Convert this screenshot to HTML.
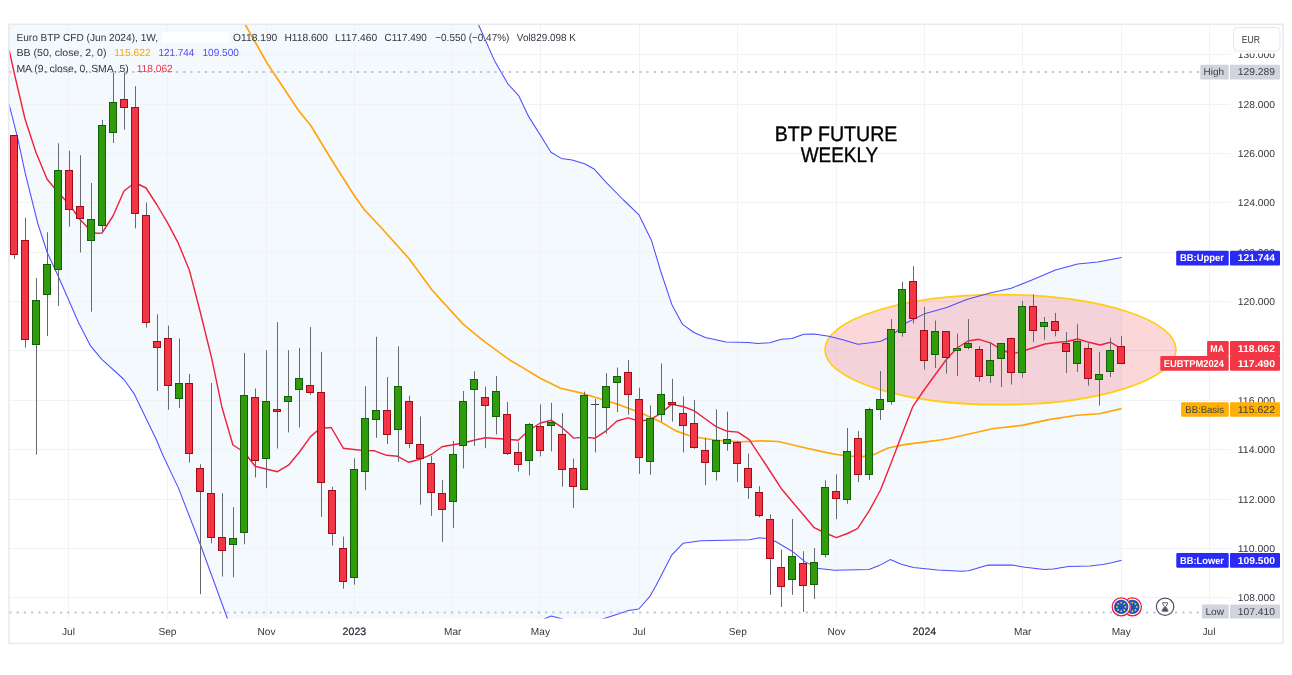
<!DOCTYPE html>
<html lang="en"><head><meta charset="utf-8"><title>Euro BTP CFD weekly chart</title>
<style>html,body{margin:0;padding:0;background:#fff}svg{display:block}</style></head>
<body>
<svg width="1292" height="675" viewBox="0 0 1292 675" font-family="Liberation Sans, Arial, sans-serif" text-rendering="geometricPrecision">
<defs><clipPath id="pane"><rect x="9" y="24.5" width="1221" height="594.0"/></clipPath></defs>
<rect width="1292" height="675" fill="#ffffff"/>
<g clip-path="url(#pane)">
<polygon fill="#f4f9fe" points="9.0,-900.0 400.0,-180.0 440.0,-75.0 478.2,24.0 494.4,60.4 507.8,83.8 518.6,95.6 528.6,116.4 551.0,152.2 561.3,158.4 572.1,160.0 584.6,163.7 594.5,169.3 605.4,181.7 623.5,200.0 639.0,214.9 651.5,240.4 660.8,271.5 671.7,304.2 682.6,324.4 693.5,332.2 705.3,337.5 726.1,342.1 747.9,342.5 757.8,343.4 769.6,342.8 781.5,339.3 791.9,338.4 803.7,334.2 814.1,333.9 828.9,336.3 843.7,340.1 857.9,344.3 870.4,342.8 880.7,341.3 891.1,336.3 906.0,323.0 923.7,314.1 946.6,307.4 966.8,299.4 989.0,293.3 1011.1,288.3 1031.3,280.2 1055.5,270.1 1077.7,264.1 1097.8,262.1 1121.6,257.6 1121.6,560.2 1111.7,562.7 1103.0,564.4 1090.0,565.9 1068.4,566.6 1053.2,569.0 1044.5,569.4 1025.0,567.2 1012.0,565.1 988.2,565.1 968.5,570.8 961.8,571.2 937.6,570.0 913.4,567.6 901.3,564.2 890.2,559.6 879.1,565.6 869.0,569.6 834.8,570.2 818.6,568.6 804.7,561.6 792.2,551.2 775.5,541.5 767.0,538.6 759.4,537.8 749.5,539.7 737.4,540.1 701.1,540.7 683.0,543.3 671.9,554.8 655.8,586.0 649.5,596.9 638.8,609.0 628.6,610.4 603.6,618.8 580.0,626.0 561.8,618.8 551.3,616.0 544.4,618.8 500.0,650.0 420.0,700.0 300.0,760.0 227.4,618.5 211.5,575.0 200.8,545.8 178.6,488.4 162.3,454.0 156.5,440.0 134.0,393.6 124.0,379.5 101.8,359.3 90.7,346.2 78.5,322.5 58.5,276.7 47.2,252.5 37.8,223.5 25.2,173.1 17.6,137.9 9.0,103.9"/>
</g>
<line x1="68.5" y1="24.5" x2="68.5" y2="618.5" stroke="#f1f2f5" stroke-width="1"/>
<line x1="167.5" y1="24.5" x2="167.5" y2="618.5" stroke="#f1f2f5" stroke-width="1"/>
<line x1="266.5" y1="24.5" x2="266.5" y2="618.5" stroke="#f1f2f5" stroke-width="1"/>
<line x1="354.5" y1="24.5" x2="354.5" y2="618.5" stroke="#f1f2f5" stroke-width="1"/>
<line x1="452.5" y1="24.5" x2="452.5" y2="618.5" stroke="#f1f2f5" stroke-width="1"/>
<line x1="540.5" y1="24.5" x2="540.5" y2="618.5" stroke="#f1f2f5" stroke-width="1"/>
<line x1="639.5" y1="24.5" x2="639.5" y2="618.5" stroke="#f1f2f5" stroke-width="1"/>
<line x1="737.5" y1="24.5" x2="737.5" y2="618.5" stroke="#f1f2f5" stroke-width="1"/>
<line x1="836.5" y1="24.5" x2="836.5" y2="618.5" stroke="#f1f2f5" stroke-width="1"/>
<line x1="924.5" y1="24.5" x2="924.5" y2="618.5" stroke="#f1f2f5" stroke-width="1"/>
<line x1="1022.5" y1="24.5" x2="1022.5" y2="618.5" stroke="#f1f2f5" stroke-width="1"/>
<line x1="1121.5" y1="24.5" x2="1121.5" y2="618.5" stroke="#f1f2f5" stroke-width="1"/>
<line x1="1209.5" y1="24.5" x2="1209.5" y2="618.5" stroke="#f1f2f5" stroke-width="1"/>
<line x1="9" y1="597.5" x2="1230" y2="597.5" stroke="#f1f2f5" stroke-width="1"/>
<line x1="9" y1="548.5" x2="1230" y2="548.5" stroke="#f1f2f5" stroke-width="1"/>
<line x1="9" y1="499.5" x2="1230" y2="499.5" stroke="#f1f2f5" stroke-width="1"/>
<line x1="9" y1="449.5" x2="1230" y2="449.5" stroke="#f1f2f5" stroke-width="1"/>
<line x1="9" y1="400.5" x2="1230" y2="400.5" stroke="#f1f2f5" stroke-width="1"/>
<line x1="9" y1="350.5" x2="1230" y2="350.5" stroke="#f1f2f5" stroke-width="1"/>
<line x1="9" y1="301.5" x2="1230" y2="301.5" stroke="#f1f2f5" stroke-width="1"/>
<line x1="9" y1="252.5" x2="1230" y2="252.5" stroke="#f1f2f5" stroke-width="1"/>
<line x1="9" y1="202.5" x2="1230" y2="202.5" stroke="#f1f2f5" stroke-width="1"/>
<line x1="9" y1="153.5" x2="1230" y2="153.5" stroke="#f1f2f5" stroke-width="1"/>
<line x1="9" y1="104.5" x2="1230" y2="104.5" stroke="#f1f2f5" stroke-width="1"/>
<line x1="9" y1="54.5" x2="1230" y2="54.5" stroke="#f1f2f5" stroke-width="1"/>
<g clip-path="url(#pane)">
<ellipse cx="1000.5" cy="349.7" rx="175.5" ry="55" fill="#f23645" fill-opacity="0.2" stroke="#ffce12" stroke-width="1.7"/>
<polyline fill="none" stroke="#4d4dff" stroke-width="1.05" stroke-linejoin="round" points="9.0,-900.0 400.0,-180.0 440.0,-75.0 478.2,24.0 494.4,60.4 507.8,83.8 518.6,95.6 528.6,116.4 551.0,152.2 561.3,158.4 572.1,160.0 584.6,163.7 594.5,169.3 605.4,181.7 623.5,200.0 639.0,214.9 651.5,240.4 660.8,271.5 671.7,304.2 682.6,324.4 693.5,332.2 705.3,337.5 726.1,342.1 747.9,342.5 757.8,343.4 769.6,342.8 781.5,339.3 791.9,338.4 803.7,334.2 814.1,333.9 828.9,336.3 843.7,340.1 857.9,344.3 870.4,342.8 880.7,341.3 891.1,336.3 906.0,323.0 923.7,314.1 946.6,307.4 966.8,299.4 989.0,293.3 1011.1,288.3 1031.3,280.2 1055.5,270.1 1077.7,264.1 1097.8,262.1 1121.6,257.6"/>
<polyline fill="none" stroke="#4d4dff" stroke-width="1.05" stroke-linejoin="round" points="9.0,103.9 17.6,137.9 25.2,173.1 37.8,223.5 47.2,252.5 58.5,276.7 78.5,322.5 90.7,346.2 101.8,359.3 124.0,379.5 134.0,393.6 156.5,440.0 162.3,454.0 178.6,488.4 200.8,545.8 211.5,575.0 227.4,618.5 300.0,760.0 420.0,700.0 500.0,650.0 544.4,618.8 551.3,616.0 561.8,618.8 580.0,626.0 603.6,618.8 628.6,610.4 638.8,609.0 649.5,596.9 655.8,586.0 671.9,554.8 683.0,543.3 701.1,540.7 737.4,540.1 749.5,539.7 759.4,537.8 767.0,538.6 775.5,541.5 792.2,551.2 804.7,561.6 818.6,568.6 834.8,570.2 869.0,569.6 879.1,565.6 890.2,559.6 901.3,564.2 913.4,567.6 937.6,570.0 961.8,571.2 968.5,570.8 988.2,565.1 1012.0,565.1 1025.0,567.2 1044.5,569.4 1053.2,569.0 1068.4,566.6 1090.0,565.9 1103.0,564.4 1111.7,562.7 1121.6,560.2"/>
<polyline fill="none" stroke="#ffa50a" stroke-width="1.65" stroke-linejoin="round" points="235.0,5.0 244.9,24.0 267.3,63.5 298.4,110.2 310.9,125.8 332.6,161.5 354.4,195.7 364.4,209.7 382.4,229.0 408.9,258.5 432.2,290.2 463.3,324.4 485.1,342.1 510.0,360.2 520.2,366.1 540.3,378.2 560.5,388.3 580.6,392.9 600.8,399.0 621.0,405.4 641.1,412.9 661.3,422.2 675.4,430.6 689.5,435.7 705.6,438.7 721.8,440.7 741.9,441.7 760.7,440.9 778.5,441.5 799.3,446.5 823.0,451.9 843.7,455.7 861.5,456.9 873.3,454.8 888.1,448.0 905.9,444.4 923.7,442.1 940.0,440.0 949.2,438.5 993.5,428.5 1021.8,425.4 1048.9,419.6 1077.0,415.3 1099.3,413.8 1121.6,408.6"/>
<polyline fill="none" stroke="#f0203c" stroke-width="1.4" stroke-linejoin="round" points="9.0,49.5 14.0,72.0 25.0,119.0 36.0,152.5 47.0,179.0 58.0,192.5 69.0,204.0 80.0,219.5 91.0,231.0 95.8,233.3 102.0,233.0 113.0,216.0 124.0,191.0 135.0,182.5 146.0,188.0 157.0,205.0 167.3,222.3 178.4,243.4 189.5,270.6 200.5,313.0 211.7,358.3 221.8,406.7 232.9,445.0 244.0,452.0 255.2,466.2 266.0,469.0 277.4,471.7 288.5,465.2 299.5,452.0 310.5,436.6 320.0,428.5 331.2,427.5 343.3,448.2 354.0,449.5 365.0,450.6 374.5,450.8 386.6,455.3 397.7,456.3 408.8,462.3 419.9,459.3 431.0,454.7 442.0,446.8 453.1,444.8 464.2,442.8 475.0,440.0 485.4,437.7 496.5,438.5 507.6,439.2 518.1,440.2 529.4,430.0 540.3,423.0 551.4,420.3 562.3,427.7 573.6,438.1 584.1,437.1 594.8,438.3 606.5,430.6 617.1,421.0 628.0,417.9 639.1,421.2 650.2,419.6 661.3,413.1 671.4,404.4 683.1,406.5 694.4,410.9 704.8,418.5 716.1,426.6 727.4,431.3 737.9,432.1 749.2,439.7 760.0,455.8 770.6,472.0 781.8,489.3 792.5,502.0 803.5,515.0 814.2,527.7 825.3,533.0 836.4,537.6 847.4,533.5 857.5,528.7 869.0,511.2 880.5,490.0 891.5,462.0 902.5,433.0 912.9,406.3 923.4,391.0 935.0,375.0 946.0,360.0 957.0,348.0 968.0,341.0 978.9,339.3 991.0,343.1 1001.0,349.5 1012.0,354.0 1023.0,351.0 1034.0,347.5 1045.0,344.0 1056.0,342.5 1067.0,341.5 1077.7,339.0 1089.0,342.3 1100.0,345.0 1110.4,342.2 1121.6,349.0"/>
<line x1="14.5" y1="135.0" x2="14.5" y2="259.0" stroke="#666970" stroke-width="1"/>
<rect x="10.5" y="135.5" width="7" height="119" fill="#f23645" stroke="#a40b19" stroke-width="1"/>
<line x1="25.5" y1="217.8" x2="25.5" y2="347.6" stroke="#666970" stroke-width="1"/>
<rect x="21.5" y="240.5" width="7" height="99" fill="#f23645" stroke="#a40b19" stroke-width="1"/>
<line x1="36.5" y1="278.0" x2="36.5" y2="454.7" stroke="#666970" stroke-width="1"/>
<rect x="32.5" y="300.5" width="7" height="44" fill="#309c0c" stroke="#115f08" stroke-width="1"/>
<line x1="47.5" y1="232.3" x2="47.5" y2="336.1" stroke="#666970" stroke-width="1"/>
<rect x="43.5" y="264.5" width="7" height="30" fill="#309c0c" stroke="#115f08" stroke-width="1"/>
<line x1="58.5" y1="143.3" x2="58.5" y2="306.0" stroke="#666970" stroke-width="1"/>
<rect x="54.5" y="170.5" width="7" height="99" fill="#309c0c" stroke="#115f08" stroke-width="1"/>
<line x1="69.5" y1="150.7" x2="69.5" y2="226.7" stroke="#666970" stroke-width="1"/>
<rect x="65.5" y="170.5" width="7" height="39" fill="#f23645" stroke="#a40b19" stroke-width="1"/>
<line x1="80.5" y1="155.2" x2="80.5" y2="252.5" stroke="#666970" stroke-width="1"/>
<rect x="76.5" y="206.5" width="7" height="12" fill="#f23645" stroke="#a40b19" stroke-width="1"/>
<line x1="91.5" y1="183.0" x2="91.5" y2="311.6" stroke="#666970" stroke-width="1"/>
<rect x="87.5" y="219.5" width="7" height="21" fill="#309c0c" stroke="#115f08" stroke-width="1"/>
<line x1="102.5" y1="120.0" x2="102.5" y2="232.7" stroke="#666970" stroke-width="1"/>
<rect x="98.5" y="125.5" width="7" height="100" fill="#309c0c" stroke="#115f08" stroke-width="1"/>
<line x1="113.5" y1="72.5" x2="113.5" y2="143.0" stroke="#666970" stroke-width="1"/>
<rect x="109.5" y="102.5" width="7" height="30" fill="#309c0c" stroke="#115f08" stroke-width="1"/>
<line x1="124.5" y1="72.5" x2="124.5" y2="129.6" stroke="#666970" stroke-width="1"/>
<rect x="120.5" y="99.5" width="7" height="8" fill="#f23645" stroke="#a40b19" stroke-width="1"/>
<line x1="135.5" y1="86.2" x2="135.5" y2="228.3" stroke="#666970" stroke-width="1"/>
<rect x="131.5" y="107.5" width="7" height="106" fill="#f23645" stroke="#a40b19" stroke-width="1"/>
<line x1="146.5" y1="202.5" x2="146.5" y2="327.5" stroke="#666970" stroke-width="1"/>
<rect x="142.5" y="215.5" width="7" height="107" fill="#f23645" stroke="#a40b19" stroke-width="1"/>
<line x1="157.5" y1="314.4" x2="157.5" y2="391.0" stroke="#666970" stroke-width="1"/>
<rect x="153.5" y="341.5" width="7" height="6" fill="#f23645" stroke="#a40b19" stroke-width="1"/>
<line x1="168.5" y1="325.6" x2="168.5" y2="409.7" stroke="#666970" stroke-width="1"/>
<rect x="164.5" y="338.5" width="7" height="47" fill="#f23645" stroke="#a40b19" stroke-width="1"/>
<line x1="179.5" y1="338.5" x2="179.5" y2="408.1" stroke="#666970" stroke-width="1"/>
<rect x="175.5" y="383.5" width="7" height="15" fill="#309c0c" stroke="#115f08" stroke-width="1"/>
<line x1="189.5" y1="374.0" x2="189.5" y2="462.6" stroke="#666970" stroke-width="1"/>
<rect x="185.5" y="383.5" width="7" height="70" fill="#f23645" stroke="#a40b19" stroke-width="1"/>
<line x1="200.5" y1="464.2" x2="200.5" y2="594.2" stroke="#666970" stroke-width="1"/>
<rect x="196.5" y="468.5" width="7" height="23" fill="#f23645" stroke="#a40b19" stroke-width="1"/>
<line x1="211.5" y1="382.9" x2="211.5" y2="543.4" stroke="#666970" stroke-width="1"/>
<rect x="207.5" y="493.5" width="7" height="44" fill="#f23645" stroke="#a40b19" stroke-width="1"/>
<line x1="222.5" y1="493.2" x2="222.5" y2="576.6" stroke="#666970" stroke-width="1"/>
<rect x="218.5" y="537.5" width="7" height="13" fill="#f23645" stroke="#a40b19" stroke-width="1"/>
<line x1="233.5" y1="507.1" x2="233.5" y2="577.2" stroke="#666970" stroke-width="1"/>
<rect x="229.5" y="538.5" width="7" height="6" fill="#309c0c" stroke="#115f08" stroke-width="1"/>
<line x1="244.5" y1="352.9" x2="244.5" y2="544.2" stroke="#666970" stroke-width="1"/>
<rect x="240.5" y="395.5" width="7" height="137" fill="#309c0c" stroke="#115f08" stroke-width="1"/>
<line x1="255.5" y1="388.5" x2="255.5" y2="477.5" stroke="#666970" stroke-width="1"/>
<rect x="251.5" y="397.5" width="7" height="63" fill="#f23645" stroke="#a40b19" stroke-width="1"/>
<line x1="266.5" y1="350.3" x2="266.5" y2="487.8" stroke="#666970" stroke-width="1"/>
<rect x="262.5" y="401.5" width="7" height="57" fill="#309c0c" stroke="#115f08" stroke-width="1"/>
<line x1="277.5" y1="322.1" x2="277.5" y2="448.5" stroke="#666970" stroke-width="1"/>
<rect x="273.5" y="409.5" width="7" height="2" fill="#f23645" stroke="#a40b19" stroke-width="1"/>
<line x1="288.5" y1="350.3" x2="288.5" y2="432.4" stroke="#666970" stroke-width="1"/>
<rect x="284.5" y="396.5" width="7" height="5" fill="#309c0c" stroke="#115f08" stroke-width="1"/>
<line x1="299.5" y1="347.9" x2="299.5" y2="427.5" stroke="#666970" stroke-width="1"/>
<rect x="295.5" y="378.5" width="7" height="11" fill="#309c0c" stroke="#115f08" stroke-width="1"/>
<line x1="310.5" y1="327.1" x2="310.5" y2="394.7" stroke="#666970" stroke-width="1"/>
<rect x="306.5" y="385.5" width="7" height="7" fill="#f23645" stroke="#a40b19" stroke-width="1"/>
<line x1="321.5" y1="351.9" x2="321.5" y2="516.8" stroke="#666970" stroke-width="1"/>
<rect x="317.5" y="392.5" width="7" height="90" fill="#f23645" stroke="#a40b19" stroke-width="1"/>
<line x1="332.5" y1="486.8" x2="332.5" y2="545.6" stroke="#666970" stroke-width="1"/>
<rect x="328.5" y="490.5" width="7" height="43" fill="#f23645" stroke="#a40b19" stroke-width="1"/>
<line x1="343.5" y1="536.6" x2="343.5" y2="588.7" stroke="#666970" stroke-width="1"/>
<rect x="339.5" y="548.5" width="7" height="33" fill="#f23645" stroke="#a40b19" stroke-width="1"/>
<line x1="354.5" y1="458.4" x2="354.5" y2="584.7" stroke="#666970" stroke-width="1"/>
<rect x="350.5" y="469.5" width="7" height="108" fill="#309c0c" stroke="#115f08" stroke-width="1"/>
<line x1="365.5" y1="386.0" x2="365.5" y2="490.2" stroke="#666970" stroke-width="1"/>
<rect x="361.5" y="418.5" width="7" height="53" fill="#309c0c" stroke="#115f08" stroke-width="1"/>
<line x1="376.5" y1="336.8" x2="376.5" y2="437.8" stroke="#666970" stroke-width="1"/>
<rect x="372.5" y="410.5" width="7" height="9" fill="#309c0c" stroke="#115f08" stroke-width="1"/>
<line x1="387.5" y1="377.1" x2="387.5" y2="444.1" stroke="#666970" stroke-width="1"/>
<rect x="383.5" y="410.5" width="7" height="24" fill="#f23645" stroke="#a40b19" stroke-width="1"/>
<line x1="398.5" y1="346.3" x2="398.5" y2="461.9" stroke="#666970" stroke-width="1"/>
<rect x="394.5" y="386.5" width="7" height="43" fill="#309c0c" stroke="#115f08" stroke-width="1"/>
<line x1="409.5" y1="395.7" x2="409.5" y2="448.2" stroke="#666970" stroke-width="1"/>
<rect x="405.5" y="401.5" width="7" height="42" fill="#f23645" stroke="#a40b19" stroke-width="1"/>
<line x1="420.5" y1="416.5" x2="420.5" y2="504.7" stroke="#666970" stroke-width="1"/>
<rect x="416.5" y="444.5" width="7" height="14" fill="#f23645" stroke="#a40b19" stroke-width="1"/>
<line x1="431.5" y1="455.9" x2="431.5" y2="515.8" stroke="#666970" stroke-width="1"/>
<rect x="427.5" y="463.5" width="7" height="29" fill="#f23645" stroke="#a40b19" stroke-width="1"/>
<line x1="442.5" y1="480.1" x2="442.5" y2="541.8" stroke="#666970" stroke-width="1"/>
<rect x="438.5" y="493.5" width="7" height="16" fill="#f23645" stroke="#a40b19" stroke-width="1"/>
<line x1="453.5" y1="440.9" x2="453.5" y2="527.9" stroke="#666970" stroke-width="1"/>
<rect x="449.5" y="454.5" width="7" height="47" fill="#309c0c" stroke="#115f08" stroke-width="1"/>
<line x1="463.5" y1="391.0" x2="463.5" y2="468.4" stroke="#666970" stroke-width="1"/>
<rect x="459.5" y="401.5" width="7" height="44" fill="#309c0c" stroke="#115f08" stroke-width="1"/>
<line x1="474.5" y1="371.3" x2="474.5" y2="445.8" stroke="#666970" stroke-width="1"/>
<rect x="470.5" y="379.5" width="7" height="10" fill="#309c0c" stroke="#115f08" stroke-width="1"/>
<line x1="485.5" y1="386.6" x2="485.5" y2="448.2" stroke="#666970" stroke-width="1"/>
<rect x="481.5" y="397.5" width="7" height="8" fill="#f23645" stroke="#a40b19" stroke-width="1"/>
<line x1="496.5" y1="376.1" x2="496.5" y2="434.5" stroke="#666970" stroke-width="1"/>
<rect x="492.5" y="391.5" width="7" height="25" fill="#309c0c" stroke="#115f08" stroke-width="1"/>
<line x1="507.5" y1="402.0" x2="507.5" y2="455.0" stroke="#666970" stroke-width="1"/>
<rect x="503.5" y="414.5" width="7" height="39" fill="#f23645" stroke="#a40b19" stroke-width="1"/>
<line x1="518.5" y1="442.4" x2="518.5" y2="471.6" stroke="#666970" stroke-width="1"/>
<rect x="514.5" y="452.5" width="7" height="12" fill="#f23645" stroke="#a40b19" stroke-width="1"/>
<line x1="529.5" y1="423.0" x2="529.5" y2="475.5" stroke="#666970" stroke-width="1"/>
<rect x="525.5" y="424.5" width="7" height="36" fill="#309c0c" stroke="#115f08" stroke-width="1"/>
<line x1="540.5" y1="404.4" x2="540.5" y2="456.4" stroke="#666970" stroke-width="1"/>
<rect x="536.5" y="426.5" width="7" height="24" fill="#f23645" stroke="#a40b19" stroke-width="1"/>
<line x1="551.5" y1="402.8" x2="551.5" y2="451.4" stroke="#666970" stroke-width="1"/>
<rect x="547.5" y="422.5" width="7" height="3" fill="#309c0c" stroke="#115f08" stroke-width="1"/>
<line x1="562.5" y1="413.1" x2="562.5" y2="486.7" stroke="#666970" stroke-width="1"/>
<rect x="558.5" y="434.5" width="7" height="35" fill="#f23645" stroke="#a40b19" stroke-width="1"/>
<line x1="573.5" y1="458.5" x2="573.5" y2="507.9" stroke="#666970" stroke-width="1"/>
<rect x="569.5" y="468.5" width="7" height="18" fill="#f23645" stroke="#a40b19" stroke-width="1"/>
<line x1="584.5" y1="391.7" x2="584.5" y2="489.7" stroke="#666970" stroke-width="1"/>
<rect x="580.5" y="395.5" width="7" height="94" fill="#309c0c" stroke="#115f08" stroke-width="1"/>
<line x1="595.5" y1="399.0" x2="595.5" y2="452.4" stroke="#666970" stroke-width="1"/>
<line x1="591" y1="404.5" x2="599" y2="404.5" stroke="#3c3f46" stroke-width="1"/>
<line x1="606.5" y1="373.2" x2="606.5" y2="433.7" stroke="#666970" stroke-width="1"/>
<rect x="602.5" y="386.5" width="7" height="21" fill="#309c0c" stroke="#115f08" stroke-width="1"/>
<line x1="617.5" y1="367.5" x2="617.5" y2="412.1" stroke="#666970" stroke-width="1"/>
<rect x="613.5" y="376.5" width="7" height="6" fill="#309c0c" stroke="#115f08" stroke-width="1"/>
<line x1="628.5" y1="360.1" x2="628.5" y2="414.5" stroke="#666970" stroke-width="1"/>
<rect x="624.5" y="372.5" width="7" height="22" fill="#f23645" stroke="#a40b19" stroke-width="1"/>
<line x1="639.5" y1="387.7" x2="639.5" y2="473.9" stroke="#666970" stroke-width="1"/>
<rect x="635.5" y="399.5" width="7" height="58" fill="#f23645" stroke="#a40b19" stroke-width="1"/>
<line x1="650.5" y1="405.4" x2="650.5" y2="474.8" stroke="#666970" stroke-width="1"/>
<rect x="646.5" y="418.5" width="7" height="43" fill="#309c0c" stroke="#115f08" stroke-width="1"/>
<line x1="661.5" y1="363.5" x2="661.5" y2="421.6" stroke="#666970" stroke-width="1"/>
<rect x="657.5" y="394.5" width="7" height="20" fill="#309c0c" stroke="#115f08" stroke-width="1"/>
<line x1="672.5" y1="378.8" x2="672.5" y2="421.6" stroke="#666970" stroke-width="1"/>
<rect x="668.5" y="402.5" width="7" height="2" fill="#f23645" stroke="#a40b19" stroke-width="1"/>
<line x1="683.5" y1="396.4" x2="683.5" y2="452.4" stroke="#666970" stroke-width="1"/>
<rect x="679.5" y="413.5" width="7" height="12" fill="#f23645" stroke="#a40b19" stroke-width="1"/>
<line x1="694.5" y1="400.0" x2="694.5" y2="448.8" stroke="#666970" stroke-width="1"/>
<rect x="690.5" y="423.5" width="7" height="24" fill="#f23645" stroke="#a40b19" stroke-width="1"/>
<line x1="705.5" y1="437.7" x2="705.5" y2="485.3" stroke="#666970" stroke-width="1"/>
<rect x="701.5" y="450.5" width="7" height="12" fill="#f23645" stroke="#a40b19" stroke-width="1"/>
<line x1="716.5" y1="409.3" x2="716.5" y2="480.6" stroke="#666970" stroke-width="1"/>
<rect x="712.5" y="440.5" width="7" height="31" fill="#309c0c" stroke="#115f08" stroke-width="1"/>
<line x1="727.5" y1="411.7" x2="727.5" y2="450.8" stroke="#666970" stroke-width="1"/>
<rect x="723.5" y="439.5" width="7" height="4" fill="#309c0c" stroke="#115f08" stroke-width="1"/>
<line x1="737.5" y1="441.0" x2="737.5" y2="482.0" stroke="#666970" stroke-width="1"/>
<rect x="733.5" y="442.5" width="7" height="21" fill="#f23645" stroke="#a40b19" stroke-width="1"/>
<line x1="748.5" y1="453.6" x2="748.5" y2="498.8" stroke="#666970" stroke-width="1"/>
<rect x="744.5" y="468.5" width="7" height="19" fill="#f23645" stroke="#a40b19" stroke-width="1"/>
<line x1="759.5" y1="486.3" x2="759.5" y2="517.3" stroke="#666970" stroke-width="1"/>
<rect x="755.5" y="492.5" width="7" height="23" fill="#f23645" stroke="#a40b19" stroke-width="1"/>
<line x1="770.5" y1="514.3" x2="770.5" y2="594.8" stroke="#666970" stroke-width="1"/>
<rect x="766.5" y="519.5" width="7" height="39" fill="#f23645" stroke="#a40b19" stroke-width="1"/>
<line x1="781.5" y1="549.6" x2="781.5" y2="606.9" stroke="#666970" stroke-width="1"/>
<rect x="777.5" y="567.5" width="7" height="19" fill="#f23645" stroke="#a40b19" stroke-width="1"/>
<line x1="792.5" y1="518.9" x2="792.5" y2="594.8" stroke="#666970" stroke-width="1"/>
<rect x="788.5" y="556.5" width="7" height="23" fill="#309c0c" stroke="#115f08" stroke-width="1"/>
<line x1="803.5" y1="551.2" x2="803.5" y2="612.0" stroke="#666970" stroke-width="1"/>
<rect x="799.5" y="563.5" width="7" height="22" fill="#f23645" stroke="#a40b19" stroke-width="1"/>
<line x1="814.5" y1="548.1" x2="814.5" y2="598.9" stroke="#666970" stroke-width="1"/>
<rect x="810.5" y="562.5" width="7" height="22" fill="#309c0c" stroke="#115f08" stroke-width="1"/>
<line x1="825.5" y1="480.3" x2="825.5" y2="557.5" stroke="#666970" stroke-width="1"/>
<rect x="821.5" y="487.5" width="7" height="67" fill="#309c0c" stroke="#115f08" stroke-width="1"/>
<line x1="836.5" y1="474.4" x2="836.5" y2="519.2" stroke="#666970" stroke-width="1"/>
<rect x="832.5" y="491.5" width="7" height="7" fill="#f23645" stroke="#a40b19" stroke-width="1"/>
<line x1="847.5" y1="427.9" x2="847.5" y2="503.7" stroke="#666970" stroke-width="1"/>
<rect x="843.5" y="451.5" width="7" height="48" fill="#309c0c" stroke="#115f08" stroke-width="1"/>
<line x1="858.5" y1="431.1" x2="858.5" y2="482.1" stroke="#666970" stroke-width="1"/>
<rect x="854.5" y="438.5" width="7" height="36" fill="#f23645" stroke="#a40b19" stroke-width="1"/>
<line x1="869.5" y1="407.7" x2="869.5" y2="479.9" stroke="#666970" stroke-width="1"/>
<rect x="865.5" y="409.5" width="7" height="65" fill="#309c0c" stroke="#115f08" stroke-width="1"/>
<line x1="880.5" y1="371.0" x2="880.5" y2="420.0" stroke="#666970" stroke-width="1"/>
<rect x="876.5" y="399.5" width="7" height="10" fill="#309c0c" stroke="#115f08" stroke-width="1"/>
<line x1="891.5" y1="319.1" x2="891.5" y2="404.7" stroke="#666970" stroke-width="1"/>
<rect x="887.5" y="329.5" width="7" height="72" fill="#309c0c" stroke="#115f08" stroke-width="1"/>
<line x1="902.5" y1="281.8" x2="902.5" y2="336.7" stroke="#666970" stroke-width="1"/>
<rect x="898.5" y="289.5" width="7" height="43" fill="#309c0c" stroke="#115f08" stroke-width="1"/>
<line x1="913.5" y1="266.1" x2="913.5" y2="323.5" stroke="#666970" stroke-width="1"/>
<rect x="909.5" y="281.5" width="7" height="37" fill="#f23645" stroke="#a40b19" stroke-width="1"/>
<line x1="924.5" y1="307.0" x2="924.5" y2="369.5" stroke="#666970" stroke-width="1"/>
<rect x="920.5" y="330.5" width="7" height="30" fill="#f23645" stroke="#a40b19" stroke-width="1"/>
<line x1="935.5" y1="320.5" x2="935.5" y2="367.9" stroke="#666970" stroke-width="1"/>
<rect x="931.5" y="331.5" width="7" height="23" fill="#309c0c" stroke="#115f08" stroke-width="1"/>
<line x1="946.5" y1="331.2" x2="946.5" y2="373.5" stroke="#666970" stroke-width="1"/>
<rect x="942.5" y="331.5" width="7" height="26" fill="#f23645" stroke="#a40b19" stroke-width="1"/>
<line x1="957.5" y1="333.6" x2="957.5" y2="376.0" stroke="#666970" stroke-width="1"/>
<rect x="953.5" y="348.5" width="7" height="2" fill="#309c0c" stroke="#115f08" stroke-width="1"/>
<line x1="968.5" y1="319.1" x2="968.5" y2="349.4" stroke="#666970" stroke-width="1"/>
<rect x="964.5" y="343.5" width="7" height="4" fill="#309c0c" stroke="#115f08" stroke-width="1"/>
<line x1="979.5" y1="346.1" x2="979.5" y2="381.6" stroke="#666970" stroke-width="1"/>
<rect x="975.5" y="349.5" width="7" height="27" fill="#f23645" stroke="#a40b19" stroke-width="1"/>
<line x1="990.5" y1="342.1" x2="990.5" y2="383.0" stroke="#666970" stroke-width="1"/>
<rect x="986.5" y="360.5" width="7" height="15" fill="#309c0c" stroke="#115f08" stroke-width="1"/>
<line x1="1001.5" y1="343.1" x2="1001.5" y2="387.1" stroke="#666970" stroke-width="1"/>
<rect x="997.5" y="343.5" width="7" height="15" fill="#309c0c" stroke="#115f08" stroke-width="1"/>
<line x1="1011.5" y1="337.7" x2="1011.5" y2="384.6" stroke="#666970" stroke-width="1"/>
<rect x="1007.5" y="338.5" width="7" height="34" fill="#f23645" stroke="#a40b19" stroke-width="1"/>
<line x1="1022.5" y1="300.8" x2="1022.5" y2="377.6" stroke="#666970" stroke-width="1"/>
<rect x="1018.5" y="306.5" width="7" height="66" fill="#309c0c" stroke="#115f08" stroke-width="1"/>
<line x1="1033.5" y1="294.3" x2="1033.5" y2="342.1" stroke="#666970" stroke-width="1"/>
<rect x="1029.5" y="306.5" width="7" height="24" fill="#f23645" stroke="#a40b19" stroke-width="1"/>
<line x1="1044.5" y1="316.9" x2="1044.5" y2="339.7" stroke="#666970" stroke-width="1"/>
<rect x="1040.5" y="322.5" width="7" height="4" fill="#309c0c" stroke="#115f08" stroke-width="1"/>
<line x1="1055.5" y1="312.9" x2="1055.5" y2="336.3" stroke="#666970" stroke-width="1"/>
<rect x="1051.5" y="321.5" width="7" height="9" fill="#f23645" stroke="#a40b19" stroke-width="1"/>
<line x1="1066.5" y1="332.0" x2="1066.5" y2="372.9" stroke="#666970" stroke-width="1"/>
<rect x="1062.5" y="343.5" width="7" height="8" fill="#f23645" stroke="#a40b19" stroke-width="1"/>
<line x1="1077.5" y1="324.2" x2="1077.5" y2="371.9" stroke="#666970" stroke-width="1"/>
<rect x="1073.5" y="341.5" width="7" height="22" fill="#309c0c" stroke="#115f08" stroke-width="1"/>
<line x1="1088.5" y1="343.1" x2="1088.5" y2="385.6" stroke="#666970" stroke-width="1"/>
<rect x="1084.5" y="348.5" width="7" height="30" fill="#f23645" stroke="#a40b19" stroke-width="1"/>
<line x1="1099.5" y1="351.9" x2="1099.5" y2="405.6" stroke="#666970" stroke-width="1"/>
<rect x="1095.5" y="374.5" width="7" height="5" fill="#309c0c" stroke="#115f08" stroke-width="1"/>
<line x1="1110.5" y1="337.7" x2="1110.5" y2="377.0" stroke="#666970" stroke-width="1"/>
<rect x="1106.5" y="350.5" width="7" height="21" fill="#309c0c" stroke="#115f08" stroke-width="1"/>
<line x1="1121.5" y1="336.1" x2="1121.5" y2="364.2" stroke="#666970" stroke-width="1"/>
<rect x="1117.5" y="346.5" width="7" height="17" fill="#f23645" stroke="#a40b19" stroke-width="1"/>
</g>
<line x1="9.3" y1="72" x2="1199.5" y2="72" stroke="#c1c5d1" stroke-width="2" stroke-dasharray="2.2 5.04"/>
<line x1="9.3" y1="612.5" x2="1201" y2="612.5" stroke="#c1c5d1" stroke-width="2" stroke-dasharray="2.2 5.04"/>
<text transform="translate(16.40 40.90) scale(0.9838 1.0000)" font-size="10.3" fill="#33363e" font-weight="normal">Euro BTP CFD (Jun 2024), 1W,</text>
<rect x="162.2" y="32.5" width="66.8" height="10.2" fill="#ffffff"/>
<text transform="translate(233.10 40.90) scale(0.9940 1.0000)" font-size="10.3" fill="#33363e" font-weight="normal">O118.190</text>
<text transform="translate(284.40 40.90) scale(0.9930 1.0000)" font-size="10.3" fill="#33363e" font-weight="normal">H118.600</text>
<text transform="translate(335.10 40.90) scale(0.9956 1.0000)" font-size="10.3" fill="#33363e" font-weight="normal">L117.460</text>
<text transform="translate(384.60 40.90) scale(0.9634 1.0000)" font-size="10.3" fill="#33363e" font-weight="normal">C117.490</text>
<text transform="translate(435.30 40.90) scale(0.9646 1.0000)" font-size="10.3" fill="#33363e" font-weight="normal">−0.550 (−0.47%)</text>
<text transform="translate(516.80 40.90) scale(0.9647 1.0000)" font-size="10.3" fill="#33363e" font-weight="normal">Vol829.098 K</text>
<text transform="translate(16.40 56.10) scale(1.0288 1.0000)" font-size="10.3" fill="#33363e" font-weight="normal">BB (50, close, 2, 0)</text>
<text transform="translate(114.30 56.10) scale(0.9981 1.0000)" font-size="10.3" fill="#ffa50a" font-weight="normal">115.622</text>
<text transform="translate(158.50 56.10) scale(0.9615 1.0000)" font-size="10.3" fill="#4a4aff" font-weight="normal">121.744</text>
<text transform="translate(202.50 56.10) scale(0.9776 1.0000)" font-size="10.3" fill="#4a4aff" font-weight="normal">109.500</text>
<text transform="translate(16.40 71.50) scale(1.0125 1.0000)" font-size="10.3" fill="#33363e" font-weight="normal">MA (9, close, 0, SMA, 5)</text>
<text transform="translate(136.70 71.50) scale(0.9899 1.0000)" font-size="10.3" fill="#f23645" font-weight="normal">118.062</text>
<g stroke="#000000" stroke-width="0.35">
<text transform="translate(774.80 140.60) scale(0.9325 1.0000)" font-size="21" fill="#000000" font-weight="normal">BTP FUTURE</text>
<text transform="translate(800.70 162.20) scale(0.9015 1.0000)" font-size="21" fill="#000000" font-weight="normal">WEEKLY</text>
</g>
<text transform="translate(1237.80 600.80) scale(1.0289 1.0000)" font-size="10.0" fill="#33363e" font-weight="normal">108.000</text>
<text transform="translate(1237.80 551.80) scale(1.0507 1.0000)" font-size="10.0" fill="#33363e" font-weight="normal">110.000</text>
<text transform="translate(1237.80 502.80) scale(1.0507 1.0000)" font-size="10.0" fill="#33363e" font-weight="normal">112.000</text>
<text transform="translate(1237.80 452.80) scale(1.0507 1.0000)" font-size="10.0" fill="#33363e" font-weight="normal">114.000</text>
<text transform="translate(1237.80 403.80) scale(1.0507 1.0000)" font-size="10.0" fill="#33363e" font-weight="normal">116.000</text>
<text transform="translate(1237.80 353.80) scale(1.0507 1.0000)" font-size="10.0" fill="#33363e" font-weight="normal">118.000</text>
<text transform="translate(1237.80 304.80) scale(1.0289 1.0000)" font-size="10.0" fill="#33363e" font-weight="normal">120.000</text>
<text transform="translate(1237.80 255.80) scale(1.0289 1.0000)" font-size="10.0" fill="#33363e" font-weight="normal">122.000</text>
<text transform="translate(1237.80 205.80) scale(1.0289 1.0000)" font-size="10.0" fill="#33363e" font-weight="normal">124.000</text>
<text transform="translate(1237.80 156.80) scale(1.0289 1.0000)" font-size="10.0" fill="#33363e" font-weight="normal">126.000</text>
<text transform="translate(1237.80 107.80) scale(1.0289 1.0000)" font-size="10.0" fill="#33363e" font-weight="normal">128.000</text>
<text transform="translate(1237.80 57.80) scale(1.0289 1.0000)" font-size="10.0" fill="#33363e" font-weight="normal">130.000</text>
<rect x="1231" y="25" width="52" height="28.5" fill="#ffffff"/>
<rect x="1233.5" y="27.5" width="46.5" height="23.5" rx="4" fill="#ffffff" stroke="#e4e6ec" stroke-width="1"/>
<text transform="translate(1241.70 42.80) scale(0.8505 1.0000)" font-size="10.2" fill="#33363e" font-weight="normal">EUR</text>
<rect x="1200.3" y="64.7" width="28.4" height="14.9" rx="1.2" fill="#d1d4dc"/>
<rect x="1230" y="64.7" width="50" height="14.9" rx="1.2" fill="#d1d4dc"/>
<text transform="translate(1203.60 74.70) scale(0.9913 1.0000)" font-size="10.0" fill="#3a3d45" font-weight="normal">High</text>
<text transform="translate(1237.80 74.70) scale(1.0289 1.0000)" font-size="10.0" fill="#3a3d45" font-weight="normal">129.289</text>
<rect x="1176.2" y="250.7" width="52.5" height="14.8" rx="1.2" fill="#2a2af5"/>
<rect x="1230" y="250.7" width="50" height="14.8" rx="1.2" fill="#2a2af5"/>
<text transform="translate(1179.90 260.90) scale(0.9449 1.0000)" font-size="10.0" fill="#ffffff" font-weight="bold">BB:Upper</text>
<text transform="translate(1237.80 260.90) scale(1.0289 1.0000)" font-size="10.0" fill="#ffffff" font-weight="bold">121.744</text>
<rect x="1207.1" y="341" width="21.6" height="15.3" rx="1.2" fill="#f23645"/>
<rect x="1230" y="341" width="50" height="15.3" rx="1.2" fill="#f23645"/>
<text transform="translate(1210.30 351.70) scale(0.8803 1.0000)" font-size="10.0" fill="#ffffff" font-weight="bold">MA</text>
<text transform="translate(1237.80 351.70) scale(1.0447 1.0000)" font-size="10.0" fill="#ffffff" font-weight="bold">118.062</text>
<rect x="1160.3" y="356" width="68.4" height="14.8" rx="1.2" fill="#f23645"/>
<rect x="1230" y="356" width="50" height="14.8" rx="1.2" fill="#f23645"/>
<text transform="translate(1163.70 367.00) scale(0.9353 1.0000)" font-size="10.0" fill="#ffffff" font-weight="bold">EUBTPM2024</text>
<text transform="translate(1237.80 367.00) scale(1.0447 1.0000)" font-size="10.0" fill="#ffffff" font-weight="bold">117.490</text>
<rect x="1181.1" y="402.3" width="47.6" height="14.5" rx="1.2" fill="#ffb000"/>
<rect x="1230" y="402.3" width="50" height="14.5" rx="1.2" fill="#ffb000"/>
<text transform="translate(1185.30 412.60) scale(0.9537 1.0000)" font-size="10.0" fill="#3a3d45" font-weight="normal">BB:Basis</text>
<text transform="translate(1237.80 412.60) scale(1.0507 1.0000)" font-size="10.0" fill="#3a3d45" font-weight="normal">115.622</text>
<rect x="1176.3" y="552.9" width="52.4" height="14.8" rx="1.2" fill="#2a2af5"/>
<rect x="1230" y="552.9" width="50" height="14.8" rx="1.2" fill="#2a2af5"/>
<text transform="translate(1179.90 563.90) scale(0.9336 1.0000)" font-size="10.0" fill="#ffffff" font-weight="bold">BB:Lower</text>
<text transform="translate(1237.80 563.90) scale(1.0289 1.0000)" font-size="10.0" fill="#ffffff" font-weight="bold">109.500</text>
<rect x="1201.9" y="604.5" width="26.8" height="14.1" rx="1.2" fill="#d1d4dc"/>
<rect x="1230" y="604.5" width="50" height="14.1" rx="1.2" fill="#d1d4dc"/>
<text transform="translate(1205.50 615.15) scale(1.0077 1.0000)" font-size="10.0" fill="#3a3d45" font-weight="normal">Low</text>
<text transform="translate(1237.80 615.15) scale(1.0289 1.0000)" font-size="10.0" fill="#3a3d45" font-weight="normal">107.410</text>
<text x="68.5" y="634.9" font-size="10.1" fill="#33363e" text-anchor="middle">Jul</text>
<text x="167.5" y="634.9" font-size="10.1" fill="#33363e" text-anchor="middle">Sep</text>
<text x="266.5" y="634.9" font-size="10.1" fill="#33363e" text-anchor="middle">Nov</text>
<text x="354.4" y="634.9" font-size="10.6" fill="#2a2d35" stroke="#2a2d35" stroke-width="0.22" text-anchor="middle">2023</text>
<text x="452.7" y="634.9" font-size="10.1" fill="#33363e" text-anchor="middle">Mar</text>
<text x="540.4" y="634.9" font-size="10.1" fill="#33363e" text-anchor="middle">May</text>
<text x="639" y="634.9" font-size="10.1" fill="#33363e" text-anchor="middle">Jul</text>
<text x="737.8" y="634.9" font-size="10.1" fill="#33363e" text-anchor="middle">Sep</text>
<text x="836.5" y="634.9" font-size="10.1" fill="#33363e" text-anchor="middle">Nov</text>
<text x="924.4" y="634.9" font-size="10.6" fill="#2a2d35" stroke="#2a2d35" stroke-width="0.22" text-anchor="middle">2024</text>
<text x="1022.7" y="634.9" font-size="10.1" fill="#33363e" text-anchor="middle">Mar</text>
<text x="1121.2" y="634.9" font-size="10.1" fill="#33363e" text-anchor="middle">May</text>
<text x="1209" y="634.9" font-size="10.1" fill="#33363e" text-anchor="middle">Jul</text>
<circle cx="1132.4" cy="606.9" r="9.6" fill="#ffffff"/>
<circle cx="1132.4" cy="606.9" r="9" fill="#ffffff" stroke="#f0142d" stroke-width="1.2"/>
<circle cx="1132.4" cy="606.9" r="7.2" fill="#1a55c0"/>
<circle cx="1132.40" cy="602.60" r="0.95" fill="#f5d03a"/>
<circle cx="1135.44" cy="603.86" r="0.95" fill="#f5d03a"/>
<circle cx="1136.70" cy="606.90" r="0.95" fill="#f5d03a"/>
<circle cx="1135.44" cy="609.94" r="0.95" fill="#f5d03a"/>
<circle cx="1132.40" cy="611.20" r="0.95" fill="#f5d03a"/>
<circle cx="1129.36" cy="609.94" r="0.95" fill="#f5d03a"/>
<circle cx="1128.10" cy="606.90" r="0.95" fill="#f5d03a"/>
<circle cx="1129.36" cy="603.86" r="0.95" fill="#f5d03a"/>
<circle cx="1121.2" cy="606.9" r="9.6" fill="#ffffff"/>
<circle cx="1121.2" cy="606.9" r="9" fill="#ffffff" stroke="#f0142d" stroke-width="1.2"/>
<circle cx="1121.2" cy="606.9" r="7.2" fill="#1a55c0"/>
<circle cx="1121.20" cy="602.60" r="0.95" fill="#f5d03a"/>
<circle cx="1124.24" cy="603.86" r="0.95" fill="#f5d03a"/>
<circle cx="1125.50" cy="606.90" r="0.95" fill="#f5d03a"/>
<circle cx="1124.24" cy="609.94" r="0.95" fill="#f5d03a"/>
<circle cx="1121.20" cy="611.20" r="0.95" fill="#f5d03a"/>
<circle cx="1118.16" cy="609.94" r="0.95" fill="#f5d03a"/>
<circle cx="1116.90" cy="606.90" r="0.95" fill="#f5d03a"/>
<circle cx="1118.16" cy="603.86" r="0.95" fill="#f5d03a"/>
<circle cx="1165.1" cy="606.7" r="8.7" fill="#ffffff" stroke="#50535e" stroke-width="1.25"/>
<path d="M1162.7 602.7h4.8v1.2l-1.8 2.8 2.2 3.2v1.3h-5.6v-1.3l2.2-3.2-1.8-2.8z" fill="#ffffff" stroke="#50535e" stroke-width="0.9" stroke-linejoin="round"/>
<path d="M1165.1 606.6l2.5 3.5v1.1h-5v-1.1z" fill="#50535e"/>
<rect x="8.9" y="24.3" width="1274.1" height="619.1" fill="none" stroke="#e7e9f0" stroke-width="1.5"/>
</svg>
</body></html>
